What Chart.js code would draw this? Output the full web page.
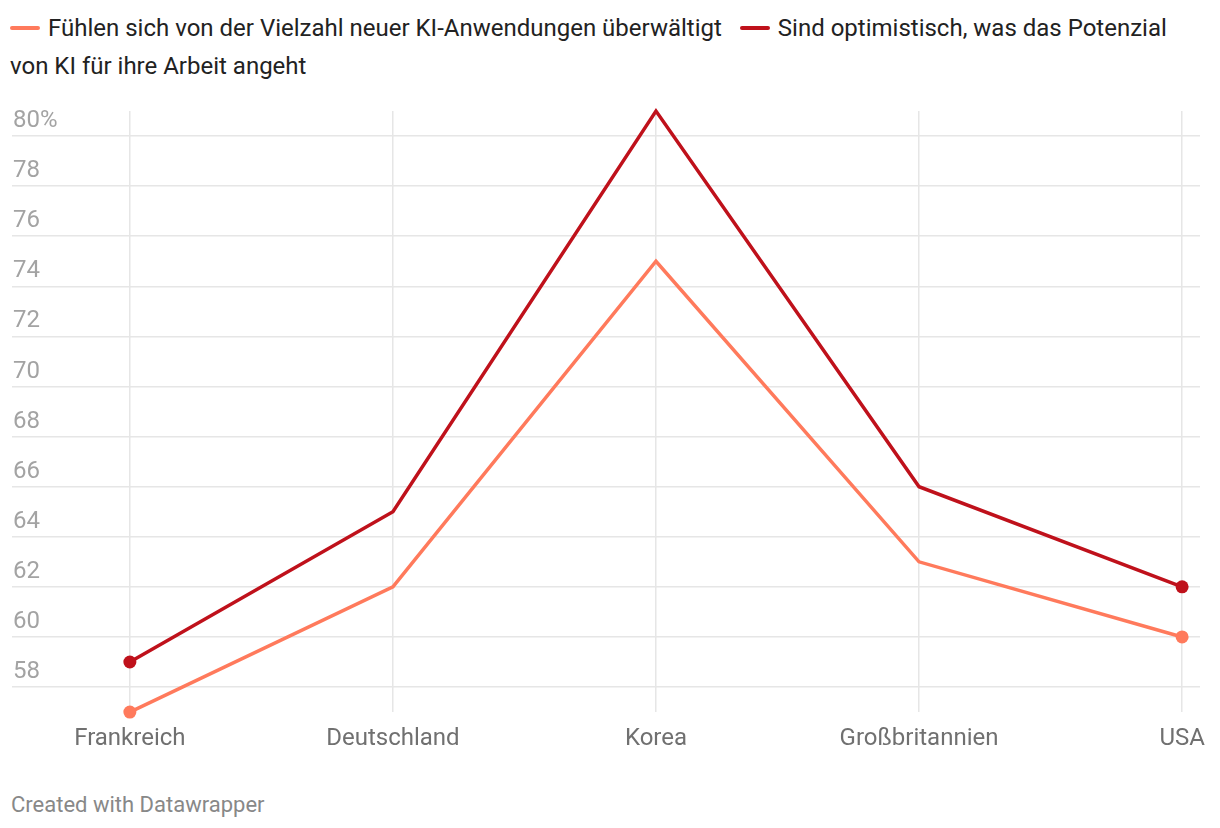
<!DOCTYPE html>
<html>
<head>
<meta charset="utf-8">
<script src="https://cdn.jsdelivr.net/npm/chart.js@4"></script>
<style>
  body { margin: 0; width: 1220px; height: 828px; background: #fff; font-family: Roboto, sans-serif; position: relative; overflow: hidden; }
  #legend { position: absolute; left: 10px; top: 9px; width: 1197px; font-size: 24px; line-height: 38px; color: #222; }
  .sw { display: inline-block; width: 30px; height: 4px; border-radius: 2px; vertical-align: middle; margin-right: 8px; position: relative; top: -2px; }
  .item { margin-right: 18px; }
  #wrap { position: absolute; left: 0; top: 90px; width: 1220px; height: 685px; }
  #footer { position: absolute; left: 11px; top: 792px; font-size: 22px; color: #888; }
</style>
</head>
<body>
<div id="legend"></div>
<div id="wrap"><canvas id="chart" width="1220" height="685"></canvas></div>
<div id="footer">Created with Datawrapper</div>
<script>
// categories and values
const countries = ['Frankreich', 'Deutschland', 'Korea', 'Großbritannien', 'USA']
const overwhelmed = [57, 62, 75, 63, 60]
const optimistic = [59, 65, 81, 66, 62]
const yTicks = [58, 60, 62, 64, 66, 68, 70, 72, 74, 76, 78, 80]
const seriesNames = [
	'Fühlen sich von der Vielzahl neuer KI-Anwendungen überwältigt',
	'Sind optimistisch, was das Potenzial von KI für ihre Arbeit angeht'
]
const colors = ['#ff7a5c', '#bf111b']

//html legend so the long text can wrap like the original
const legend = document.getElementById('legend')
seriesNames.forEach((name, i) => {
	const span = document.createElement('span')
	span.className = 'item'
	span.innerHTML = '<span class="sw" style="background:' + colors[i] + '"></span>' + name
	legend.appendChild(span)
})

//only first and last point get a dot
function endDots(ctx) {
	const n = ctx.dataset.data.length
	return (ctx.dataIndex === 0 || ctx.dataIndex === n - 1) ? 6.5 : 0
}

function toPoints(values) {
	return values.map((v, i) => ({ x: i, y: v }))
}

Chart.defaults.font.family = 'Roboto'

new Chart(document.getElementById('chart'), {
	type: 'line',
	data: {
		datasets: [
			{
				label: seriesNames[0],
				data: toPoints(overwhelmed),
				borderColor: colors[0],
				backgroundColor: colors[0],
				borderWidth: 3.5,
				pointRadius: endDots,
				pointBorderWidth: 0,
				pointHoverRadius: endDots,
				clip: false
			},
			{
				label: seriesNames[1],
				data: toPoints(optimistic),
				borderColor: colors[1],
				backgroundColor: colors[1],
				borderWidth: 3.5,
				pointRadius: endDots,
				pointBorderWidth: 0,
				pointHoverRadius: endDots,
				clip: false
			}
		]
	},
	options: {
		responsive: false,
		animation: false,
		layout: { padding: { left: 10, right: 20, top: 21, bottom: 10.1 } },
		plugins: {
			legend: { display: false },
			tooltip: { enabled: false }
		},
		scales: {
			x: {
				type: 'linear',
				min: -0.448,
				max: 4.068,
				afterBuildTicks: scale => {
					scale.ticks = countries.map((c, i) => ({ value: i }))
				},
				grid: { color: '#e6e6e6', lineWidth: 1.5, drawTicks: false },
				border: { display: false },
				ticks: {
					autoSkip: false,
					maxRotation: 0,
					padding: 12,
					color: '#707070',
					font: { size: 24 },
					callback: value => countries[value]
				}
			},
			y: {
				min: 57,
				max: 81,
				afterBuildTicks: scale => {
					scale.ticks = yTicks.map(v => ({ value: v }))
				},
				grid: { color: '#e6e6e6', lineWidth: 1.5, drawTicks: false },
				border: { display: false },
				ticks: {
					mirror: true,
					padding: 1,
					labelOffset: -15,
					color: '#a3a3a3',
					font: { size: 24 },
					callback: value => value === 80 ? '80%' : value
				}
			}
		}
	}
})
</script>
</body>
</html>
